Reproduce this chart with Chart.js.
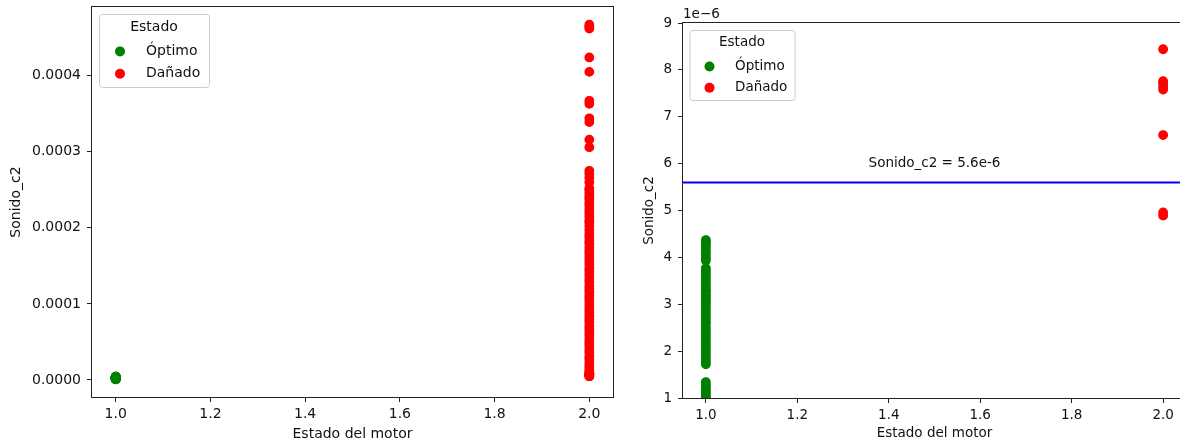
<!DOCTYPE html>
<html>
<head>
<meta charset="utf-8">
<title>Sonido_c2 por estado del motor</title>
<script src="https://cdn.jsdelivr.net/npm/chart.js@4.4.1/dist/chart.umd.min.js"></script>
<style>
  html, body { margin: 0; padding: 0; width: 1180px; height: 443px; overflow: hidden; background: #fff; }
  .panel { position: absolute; top: 0; height: 443px; }
  #panelGlobal { left: 0; width: 625px; }
  #panelZoom { left: 620px; width: 580px; }
</style>
</head>
<body>
<div class="panel" id="panelGlobal"><canvas id="global" width="625" height="443"></canvas></div>
<div class="panel" id="panelZoom"><canvas id="zoom" width="580" height="443"></canvas></div>
<script>
// Estado del motor: 1 = Óptimo, 2 = Dañado
const estadoOptimo = 1;
const estadoDanado = 2;

// Sonido_c2 de las muestras en estado óptimo
const sonidoOptimo = [
  4.37e-6, 4.33e-6, 4.28e-6, 4.22e-6, 4.15e-6, 4.10e-6, 4.04e-6, 3.98e-6, 3.93e-6,
  3.77e-6, 3.72e-6, 3.66e-6, 3.60e-6, 3.55e-6, 3.48e-6, 3.42e-6, 3.37e-6, 3.31e-6,
  3.28e-6, 3.22e-6, 3.17e-6, 3.12e-6, 3.08e-6, 3.02e-6, 2.96e-6, 2.90e-6, 2.83e-6,
  2.77e-6, 2.70e-6, 2.64e-6, 2.58e-6, 2.50e-6, 2.43e-6, 2.37e-6, 2.30e-6, 2.24e-6,
  2.17e-6, 2.10e-6, 2.03e-6, 1.97e-6, 1.90e-6, 1.84e-6, 1.78e-6, 1.72e-6,
  1.34e-6, 1.28e-6, 1.22e-6, 1.17e-6, 1.12e-6, 1.07e-6, 1.03e-6, 0.98e-6, 0.94e-6
];

// Sonido_c2 de las muestras en estado dañado
const sonidoDanado = [
  4.67e-4, 4.645e-4, 4.62e-4, 4.24e-4, 4.05e-4, 3.67e-4, 3.63e-4, 3.44e-4, 3.39e-4,
  3.16e-4, 3.06e-4,
  2.75e-4, 2.71e-4, 2.66e-4, 2.60e-4, 2.52e-4, 2.49e-4, 2.45e-4, 2.41e-4, 2.38e-4,
  2.33e-4, 2.29e-4, 2.24e-4, 2.20e-4, 2.15e-4, 2.10e-4, 2.07e-4, 2.02e-4, 1.97e-4,
  1.92e-4, 1.88e-4, 1.83e-4, 1.79e-4, 1.74e-4, 1.70e-4, 1.66e-4, 1.61e-4, 1.56e-4,
  1.52e-4, 1.47e-4, 1.43e-4, 1.38e-4, 1.33e-4, 1.29e-4, 1.24e-4, 1.20e-4, 1.16e-4,
  1.11e-4, 1.07e-4, 1.03e-4, 0.98e-4, 0.93e-4, 0.89e-4, 0.84e-4, 0.80e-4, 0.76e-4,
  0.71e-4, 0.67e-4, 0.62e-4, 0.58e-4, 0.53e-4, 0.49e-4, 0.45e-4, 0.40e-4, 0.36e-4,
  0.31e-4, 0.27e-4, 0.22e-4, 0.18e-4, 0.14e-4, 0.11e-4,
  8.44e-6, 7.76e-6, 7.72e-6, 7.65e-6, 7.58e-6, 6.61e-6, 4.96e-6, 4.89e-6
];

// Umbral de separación entre clases
const umbral = 5.6e-6;

// Marcas de los ejes
const ticksEstado = [1.0, 1.2, 1.4, 1.6, 1.8, 2.0];
const ticksSonidoGlobal = [0, 1e-4, 2e-4, 3e-4, 4e-4];
const ticksSonidoZoom = [1e-6, 2e-6, 3e-6, 4e-6, 5e-6, 6e-6, 7e-6, 8e-6, 9e-6];

const FONT = '"DejaVu Sans", "Liberation Sans", sans-serif';
const INK = '#111';
Chart.defaults.font.family = FONT;
Chart.defaults.color = INK;

function datasets() {
  return [
    {
      label: 'Óptimo',
      data: sonidoOptimo.map(v => ({ x: estadoOptimo, y: v })),
      backgroundColor: '#008000', borderColor: '#008000',
      pointBackgroundColor: '#008000', pointBorderColor: '#008000'
    },
    {
      label: 'Dañado',
      data: sonidoDanado.map(v => ({ x: estadoDanado, y: v })),
      backgroundColor: '#ff0000', borderColor: '#ff0000',
      pointBackgroundColor: '#ff0000', pointBorderColor: '#ff0000'
    }
  ];
}

// Marco completo del área de trazado
const frame = {
  id: 'frame',
  afterDatasetsDraw(chart) {
    const { ctx, chartArea: a } = chart;
    ctx.save();
    ctx.strokeStyle = '#222';
    ctx.lineWidth = 1;
    ctx.strokeRect(a.left - 0.5, a.top - 0.5, a.right - a.left + 1, a.bottom - a.top + 1);
    ctx.restore();
  }
};

// Leyenda con recuadro dentro del área de trazado
const legendBox = {
  id: 'legendBox',
  afterDraw(chart, args, o) {
    const { ctx, chartArea: a } = chart;
    const x0 = a.left + o.dx, y0 = a.top + o.dy;
    ctx.save();
    ctx.beginPath();
    ctx.roundRect(x0 + 0.5, y0 + 0.5, o.w, o.h, 3);
    ctx.fillStyle = 'rgba(255,255,255,0.8)';
    ctx.fill();
    ctx.strokeStyle = '#cccccc';
    ctx.lineWidth = 1;
    ctx.stroke();
    ctx.font = `${o.size}px ${FONT}`;
    ctx.textBaseline = 'middle';
    ctx.fillStyle = INK;
    ctx.textAlign = 'center';
    ctx.fillText('Estado', x0 + o.w / 2, y0 + o.titleY);
    ctx.textAlign = 'left';
    chart.data.datasets.forEach((ds, i) => {
      const y = y0 + o.rowY[i];
      ctx.beginPath();
      ctx.arc(x0 + o.markX, y, o.r, 0, Math.PI * 2);
      ctx.fillStyle = ds.backgroundColor;
      ctx.fill();
      ctx.fillStyle = INK;
      ctx.fillText(ds.label, x0 + o.textX, y);
    });
    ctx.restore();
  }
};

// Factor de escala del eje y y línea de umbral
const extras = {
  id: 'extras',
  afterDatasetsDraw(chart, args, o) {
    if (!o.enabled) return;
    const { ctx, chartArea: a, scales } = chart;
    const yPix = scales.y.getPixelForValue(umbral);
    ctx.save();
    ctx.strokeStyle = '#0000ff';
    ctx.lineWidth = 2;
    ctx.beginPath();
    ctx.moveTo(a.left, yPix);
    ctx.lineTo(a.right, yPix);
    ctx.stroke();
    ctx.font = `${o.size}px ${FONT}`;
    ctx.fillStyle = INK;
    ctx.textAlign = 'center';
    ctx.textBaseline = 'middle';
    ctx.fillText(`Sonido_c2 = ${(umbral * 1e6).toFixed(1)}e-6`, scales.x.getPixelForValue(1.5), yPix - 19);
    ctx.textAlign = 'left';
    ctx.fillText('1e\u22126', a.left, a.top - 9);
    ctx.restore();
  }
};

function axisStyle(size) {
  return {
    grid: { drawOnChartArea: false, drawTicks: true, tickLength: 5, color: '#222', tickWidth: 1 },
    border: { display: false }
  };
}

function makeChart(id, cfg) {
  const size = cfg.size;
  const all = sonidoOptimo.concat(sonidoDanado);
  return new Chart(document.getElementById(id), {
    type: 'scatter',
    data: { datasets: datasets() },
    options: {
      responsive: false,
      animation: false,
      events: [],
      devicePixelRatio: 1,
      layout: { padding: cfg.padding },
      datasets: { scatter: { pointRadius: 4.2, pointBorderWidth: 1.4, clip: cfg.clip } },
      elements: { point: { radius: 4.2, borderWidth: 1.4 } },
      plugins: {
        legend: { display: false },
        tooltip: { enabled: false },
        legendBox: cfg.legend,
        extras: { enabled: cfg.extras, size: size }
      },
      scales: {
        x: {
          type: 'linear', min: 0.95, max: 2.05,
          afterBuildTicks: s => { s.ticks = ticksEstado.map(v => ({ value: v })); },
          ticks: { callback: v => Number(v).toFixed(1), padding: 4, maxRotation: 0, autoSkip: false, font: { size: size }, color: INK },
          ...axisStyle(size),
          title: { display: true, text: 'Estado del motor', font: { size: size }, color: INK, padding: { top: 0, bottom: cfg.xTitlePad } },
          afterFit: s => { s.height = cfg.xHeight; s.paddingLeft = 0; s.paddingRight = 0; }
        },
        y: {
          type: 'linear',
          min: cfg.yMin !== undefined ? cfg.yMin : Math.min(...all) - 0.05 * (Math.max(...all) - Math.min(...all)),
          max: cfg.yMax !== undefined ? cfg.yMax : Math.max(...all) + 0.05 * (Math.max(...all) - Math.min(...all)),
          afterBuildTicks: s => { s.ticks = cfg.yTicks.map(v => ({ value: v })); },
          ticks: { callback: cfg.yLabel, padding: 6, autoSkip: false, font: { size: size }, color: INK },
          ...axisStyle(size),
          title: { display: true, text: 'Sonido_c2', font: { size: size }, color: INK, padding: { top: cfg.yTitlePad, bottom: 0 } },
          afterFit: s => { s.width = cfg.yWidth; s.paddingTop = 0; s.paddingBottom = 0; }
        }
      }
    },
    plugins: [frame, extras, legendBox]
  });
}

// Vista global
makeChart('global', {
  size: 14,
  padding: { top: 7, right: 12, bottom: 0, left: 0 },
  yWidth: 92, xHeight: 46,
  xTitlePad: 0.6, yTitlePad: 8,
  yTicks: ticksSonidoGlobal,
  yLabel: v => Number(v).toFixed(4),
  clip: false,
  extras: false,
  legend: { dx: 7, dy: 7, w: 110, h: 73, size: 14, titleY: 13.4, rowY: [37.4, 59.7], markX: 21, textX: 47, r: 5 }
});

// Vista ampliada cerca del umbral
makeChart('zoom', {
  size: 13.5,
  padding: { top: 23, right: 14, bottom: 0, left: 0 },
  yWidth: 63, xHeight: 45,
  xTitlePad: 1.1, yTitlePad: 21.5,
  yTicks: ticksSonidoZoom,
  yMin: 1e-6, yMax: 9e-6,
  yLabel: v => String(Math.round(v / 1e-6)),
  clip: 0,
  extras: true,
  legend: { dx: 6.5, dy: 7, w: 105, h: 70, size: 13.5, titleY: 12.5, rowY: [36.5, 57.7], markX: 20, textX: 45.5, r: 5 }
});
</script>
</body>
</html>
